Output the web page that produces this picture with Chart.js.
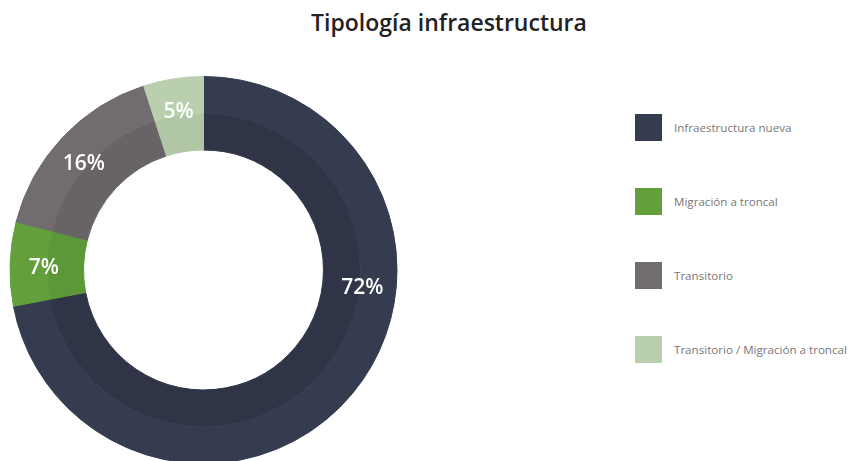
<!DOCTYPE html>
<html>
<head>
<meta charset="utf-8">
<script src="https://cdn.jsdelivr.net/npm/chart.js@4.4.0/dist/chart.umd.min.js"></script>
<style>
  html, body { margin: 0; padding: 0; background: #fff; overflow: hidden; width: 851px; height: 461px; }
  #wrap { position: relative; width: 851px; height: 461px; overflow: hidden; }
  #title { position: absolute; left: 0; top: 6px; width: 898px; text-align: center;
           font: 600 23px "Open Sans", sans-serif; line-height: 32px; color: #222; }
  #chartBox { position: absolute; left: 0; top: 0; width: 407px; height: 540px; }
  #legend { position: absolute; left: 635px; top: 114px; margin: 0; padding: 0; list-style: none; }
  #legend li { display: flex; align-items: center; height: 27px; margin-bottom: 47px;
               white-space: nowrap; font: 11.6px "Open Sans", sans-serif; color: #777; }
  #legend .box { width: 27px; height: 27px; margin-right: 12px; flex: none; }
</style>
</head>
<body>
<div id="wrap">
  <div id="title">Tipología infraestructura</div>
  <div id="chartBox"><canvas id="myChart" width="407" height="540"></canvas></div>
  <ul id="legend"></ul>
</div>
<script>
const categories = ['Infraestructura nueva', 'Migración a troncal', 'Transitorio', 'Transitorio / Migración a troncal'];
const shares = [72, 7, 16, 5];
const colors = ['#363c4f', '#63a03b', '#716c6f', '#bacfae'];
// inner half of the ring is a shade darker
const innerColors = ['#2f3546', '#5c9837', '#686365', '#b1c6a5'];

// percent labels drawn on the ring
const pctLabels = {
  id: 'pctLabels',
  afterDatasetsDraw(chart, args, opts) {
    const ctx = chart.ctx;
    const meta = chart.getDatasetMeta(0);
    ctx.save();
    ctx.font = opts.font;
    ctx.fillStyle = opts.color;
    ctx.textAlign = 'center';
    ctx.textBaseline = 'middle';
    meta.data.forEach((arc, i) => {
      const p = arc.getProps(['x', 'y', 'startAngle', 'endAngle', 'innerRadius'], true);
      const t = opts.along[i] ?? 0.5;
      const a = p.startAngle + (p.endAngle - p.startAngle) * t;
      const r = p.innerRadius + 3;
      ctx.fillText(shares[i] + '%', p.x + Math.cos(a) * r, p.y + Math.sin(a) * r);
    });
    ctx.restore();
  }
};

const data = {
  labels: categories,
  datasets: [
    { data: shares, backgroundColor: colors, borderColor: colors, borderWidth: 1 },
    { data: shares, backgroundColor: innerColors, borderColor: innerColors, borderWidth: 1 },
  ],
};

const config = {
  type: 'doughnut',
  data: data,
  options: {
    responsive: false,
    animation: false,
    radius: 193.5,
    cutout: '62%',
    layout: { padding: 0 },
    plugins: {
      legend: { display: false },
      tooltip: { enabled: false },
      pctLabels: { font: '600 21px "Open Sans", sans-serif', color: '#fff', along: [0.372, 0.46, 0.47, 0.5] },
    },
  },
  plugins: [pctLabels],
};

const myChart = new Chart(document.getElementById('myChart'), config);

// html legend
const legend = document.getElementById('legend');
categories.forEach((c, i) => {
  const li = document.createElement('li');
  const box = document.createElement('span');
  box.className = 'box';
  box.style.background = colors[i];
  li.appendChild(box);
  li.appendChild(document.createTextNode(c));
  legend.appendChild(li);
});
</script>
</body>
</html>
